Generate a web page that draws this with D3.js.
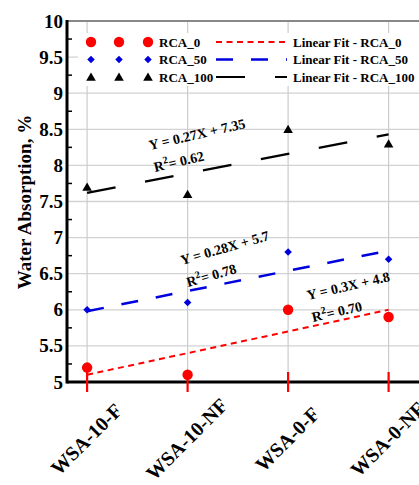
<html>
<script src='https://d3js.org/d3.v7.min.js'></script>
<style>
body { margin: 0; background: #fff; }
text { font-family: "Liberation Serif", "Times New Roman", serif; font-weight: bold; }
</style>
<body onload='init()'>
<svg width=419 height=485></svg>
<script>
var categories = ["WSA-10-F", "WSA-10-NF", "WSA-0-F", "WSA-0-NF"];
var seriesNames = ["RCA_0", "RCA_50", "RCA_100"];
var rca0 = [5.2, 5.1, 6.0, 5.9];
var rca50 = [6.0, 6.1, 6.8, 6.7];
var rca100 = [7.7, 7.6, 8.5, 8.3];
var fitSlopes = [0.3, 0.28, 0.27];
var fitIntercepts = [4.8, 5.7, 7.35];
var fitR2 = ["0.70", "0.78", "0.62"];
var yTicks = [5, 5.5, 6, 6.5, 7, 7.5, 8, 8.5, 9, 9.5, 10];
var yTickLabels = ["5", "5.5", "6", "6.5", "7", "7.5", "8", "8.5", "9", "9.5", "10"];
var yMinorTicks = [5.25, 5.75, 6.25, 6.75, 7.25, 7.75, 8.25, 8.75, 9.25, 9.75];

function init() {
var svg = d3.select("svg");
var left = 67, top = 21, bottom = 382;

var x = d3.scaleLinear().domain([0.8, 4.5]).range([left, left + 3.7 * 100.5]);
var y = d3.scaleLinear().domain([5, 10]).range([bottom, top]);
var right = x(4.5);

var series = [rca0, rca50, rca100];
var colors = ["#ff0000", "#0000dd", "#000000"];
var dashes = ["6,4.5", "17,18", "29,30"];
var widths = [2, 2.5, 2.2];

// grid
svg.append("g").selectAll("line").data(yTicks.slice(1, -1)).enter().append("line")
  .attr("x1", left).attr("x2", right)
  .attr("y1", function (d) { return y(d); }).attr("y2", function (d) { return y(d); })
  .attr("stroke", "#d2d2d2").attr("stroke-width", 1.3);
svg.append("g").selectAll("line").data(categories).enter().append("line")
  .attr("x1", function (d, i) { return x(i + 1); }).attr("x2", function (d, i) { return x(i + 1); })
  .attr("y1", top).attr("y2", bottom)
  .attr("stroke", "#cccccc").attr("stroke-width", 1.2);

// top frame
svg.append("line").attr("x1", left).attr("x2", right).attr("y1", top).attr("y2", top)
  .attr("stroke", "#888").attr("stroke-width", 2);

// legend box
svg.append("rect").attr("x", 78).attr("y", 33).attr("width", 400).attr("height", 53).attr("fill", "#fff");

// fit lines
var line = d3.line().x(function (d) { return x(d[0]); }).y(function (d) { return y(d[1]); });
fitSlopes.forEach(function (m, k) {
  var pts = [1, 4].map(function (v) { return [v, m * v + fitIntercepts[k]]; });
  svg.append("path").attr("d", line(pts)).attr("fill", "none")
    .attr("stroke", colors[k]).attr("stroke-width", widths[k]).attr("stroke-dasharray", dashes[k]);
});

// markers
function marker(g, k, cx, cy) {
  if (k === 0) {
    g.append("circle").attr("cx", cx).attr("cy", cy).attr("r", 5.2).attr("fill", colors[0]);
  } else if (k === 1) {
    g.append("path").attr("d", d3.symbol().type(d3.symbolDiamond2).size(36)())
      .attr("transform", "translate(" + cx + "," + cy + ")").attr("fill", colors[1]);
  } else {
    g.append("path").attr("d", d3.symbol().type(d3.symbolTriangle).size(40)())
      .attr("transform", "translate(" + cx + "," + (cy + 1) + ")").attr("fill", colors[2]);
  }
}
var pg = svg.append("g");
series.forEach(function (vals, k) {
  vals.forEach(function (v, i) { marker(pg, k, x(i + 1), y(v)); });
});

// axes
svg.append("line").attr("x1", left).attr("x2", right).attr("y1", bottom).attr("y2", bottom)
  .attr("stroke", "#000").attr("stroke-width", 3);
svg.append("line").attr("x1", left).attr("x2", left).attr("y1", top - 1).attr("y2", bottom + 1.5)
  .attr("stroke", "#000").attr("stroke-width", 3);

svg.append("g").selectAll("line").data(yMinorTicks).enter().append("line")
  .attr("x1", left).attr("x2", left + 5)
  .attr("y1", function (d) { return y(d); }).attr("y2", function (d) { return y(d); })
  .attr("stroke", "#000").attr("stroke-width", 1.5);

svg.append("g").selectAll("text").data(yTicks).enter().append("text")
  .attr("x", 63).attr("y", function (d) { return y(d) + 6.5; })
  .attr("text-anchor", "end").attr("font-size", 19)
  .text(function (d, i) { return yTickLabels[i]; });

// red x ticks
svg.append("g").selectAll("line").data(categories).enter().append("line")
  .attr("x1", function (d, i) { return x(i + 1); }).attr("x2", function (d, i) { return x(i + 1); })
  .attr("y1", bottom - 10).attr("y2", bottom + 10)
  .attr("stroke", "#ff0000").attr("stroke-width", 2.2);

svg.append("g").selectAll("text").data(categories).enter().append("text")
  .attr("transform", function (d, i) { return "translate(" + (x(i + 1) + 4) + ",444) rotate(-45)"; })
  .attr("text-anchor", "middle").attr("font-size", 20)
  .text(function (d) { return d; });

// y title
svg.append("text").attr("transform", "translate(31,202) rotate(-90)")
  .attr("text-anchor", "middle").attr("font-size", 19)
  .text("Water Absorption, %");

// legend
var rows = [42, 59.5, 77];
var lg = svg.append("g");
seriesNames.forEach(function (name, k) {
  [91, 119, 148].forEach(function (mx) { marker(lg, k, mx, rows[k]); });
  lg.append("text").attr("x", 159).attr("y", rows[k] + 4.5).attr("font-size", 13).text(name);
  lg.append("line").attr("x1", 216).attr("x2", 287).attr("y1", rows[k]).attr("y2", rows[k])
    .attr("stroke", colors[k]).attr("stroke-width", widths[k]).attr("stroke-dasharray", dashes[k]);
  lg.append("text").attr("x", 293).attr("y", rows[k] + 4.5).attr("font-size", 13).text("Linear Fit - " + name);
});

// fit equations
var eqPos = [[3.198, 6.136, 3.248, 5.83, -13], [1.944, 6.62, 2.004, 6.316, -16], [1.626, 8.213, 1.676, 7.91, -13]];
fitSlopes.forEach(function (m, k) {
  var p = eqPos[k];
  svg.append("text")
    .attr("transform", "translate(" + x(p[0]) + "," + y(p[1]) + ") rotate(" + p[4] + ")")
    .attr("font-size", 14)
    .text("Y = " + m + "X + " + fitIntercepts[k]);
  var t = svg.append("text")
    .attr("transform", "translate(" + x(p[2]) + "," + y(p[3]) + ") rotate(" + p[4] + ")")
    .attr("font-size", 14);
  t.append("tspan").text("R");
  t.append("tspan").attr("font-size", 10).attr("dy", -6).text("2");
  t.append("tspan").attr("dy", 6).text("= " + fitR2[k]);
});
}
</script>
</body>
</html>
